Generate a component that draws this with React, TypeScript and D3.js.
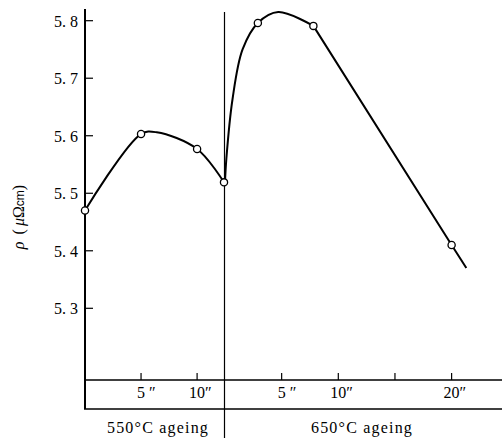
import React from "react";
import * as d3 from "d3";

// measured points (hours of ageing, resistivity in μΩcm)
const left550Times = [0, 5, 10, 12.4];
const left550Rho = [5.47, 5.603, 5.577, 5.519];
const right650Times = [2.9, 7.8, 20];
const right650Rho = [5.796, 5.791, 5.41];

// drawn curve traces
const curve550T = [0, 5, 6.4, 10, 12.4];
const curve550R = [5.47, 5.603, 5.606, 5.577, 5.519];
const curve650T = [0, 0.12, 0.66, 1.55, 2.9, 4.7, 7.8];
const curve650R = [5.519, 5.56, 5.663, 5.75, 5.796, 5.815, 5.791];
const tail650T = [7.8, 20, 21.3];
const tail650R = [5.791, 5.41, 5.37];

const yTicks = [5.3, 5.4, 5.5, 5.6, 5.7, 5.8];
const leftTicks = [5, 10];
const leftTickLabels = ["5 ″", "10″"];
const rightTicks = [5, 10, 15, 20];
const rightTickLabels = ["5 ″", "10″", "", "20″"];

const W = 502;
const H = 438;
const font = "'Liberation Serif', 'DejaVu Serif', serif";

export default function App() {
  const y = d3.scaleLinear().domain([5.3, 5.8]).range([308.3, 20.7]);
  const xL = d3.scaleLinear().domain([0, 12.4]).range([85, 224]);
  const xR = d3.scaleLinear().domain([0, 24.5]).range([225, 502.6]);

  const axisX = 85;
  const boxTop = 380;
  const boxBottom = 409;
  const divX = 224.5;

  const line550 = d3
    .line<number>()
    .x((t) => xL(t))
    .y((_, i) => y(curve550R[i]))
    .curve(d3.curveCatmullRom.alpha(0.5));
  const line650 = d3
    .line<number>()
    .x((t) => xR(t))
    .y((_, i) => y(curve650R[i]))
    .curve(d3.curveCatmullRom.alpha(0.5));
  const tail = d3
    .line<number>()
    .x((t) => xR(t))
    .y((_, i) => y(tail650R[i]));

  return (
    <div>
      <style>{"body{margin:0}"}</style>
      <svg width={W} height={H} style={{ display: "block", background: "#fff" }} fontFamily={font}>
        {/* y axis */}
        <line x1={axisX} x2={axisX} y1={9} y2={boxBottom} stroke="#000" strokeWidth={2} />
        {yTicks.map((v) => (
          <g key={v}>
            <line x1={axisX} x2={axisX + 8} y1={y(v)} y2={y(v)} stroke="#000" strokeWidth={1.2} />
            <text x={78} y={y(v) + 6} textAnchor="end" fontSize={16}>
              {v.toFixed(1).replace(".", ". ")}
            </text>
          </g>
        ))}
        <text transform="translate(24,217) rotate(-90)" textAnchor="middle" fontSize={16}>
          <tspan fontStyle="italic">ρ</tspan>
          <tspan dx={7}>(</tspan>
          <tspan dx={3} fontStyle="italic">μ</tspan>
          <tspan>Ω</tspan>
          <tspan fontSize={12} fontFamily="'Liberation Sans', sans-serif">cm</tspan>
          <tspan>)</tspan>
        </text>

        {/* divider */}
        <line x1={divX} x2={divX} y1={12} y2={H} stroke="#000" strokeWidth={1.2} />

        {/* time box */}
        <line x1={axisX - 1} x2={W} y1={boxTop} y2={boxTop} stroke="#000" strokeWidth={1.6} />
        <line x1={axisX - 1} x2={W} y1={boxBottom} y2={boxBottom} stroke="#000" strokeWidth={1.6} />
        {leftTicks.map((t, i) => (
          <g key={"l" + t}>
            <line x1={xL(t)} x2={xL(t)} y1={boxTop - 7} y2={boxTop} stroke="#000" strokeWidth={1.2} />
            <text x={xL(t) - (t < 10 ? 4 : 8)} y={398} fontSize={16}>
              {leftTickLabels[i]}
            </text>
          </g>
        ))}
        {rightTicks.map((t, i) => (
          <g key={"r" + t}>
            <line x1={xR(t)} x2={xR(t)} y1={boxTop - 7} y2={boxTop} stroke="#000" strokeWidth={1.2} />
            <text x={xR(t) - (t < 10 ? 4 : 8)} y={398} fontSize={16}>
              {rightTickLabels[i]}
            </text>
          </g>
        ))}
        <text x={158} y={433} textAnchor="middle" fontSize={16} letterSpacing={1.2}>
          550°C  ageing
        </text>
        <text x={362} y={433} textAnchor="middle" fontSize={16} letterSpacing={1.2}>
          650°C  ageing
        </text>

        {/* curves */}
        <path d={line550(curve550T) || ""} fill="none" stroke="#000" strokeWidth={2} />
        <path d={line650(curve650T) || ""} fill="none" stroke="#000" strokeWidth={2} />
        <path d={tail(tail650T) || ""} fill="none" stroke="#000" strokeWidth={2} />

        {/* measured points */}
        {left550Times.map((t, i) => (
          <circle key={"a" + i} cx={xL(t)} cy={y(left550Rho[i])} r={3.6} fill="#fff" stroke="#000" strokeWidth={1.3} />
        ))}
        {right650Times.map((t, i) => (
          <circle key={"b" + i} cx={xR(t)} cy={y(right650Rho[i])} r={3.6} fill="#fff" stroke="#000" strokeWidth={1.3} />
        ))}
      </svg>
    </div>
  );
}
